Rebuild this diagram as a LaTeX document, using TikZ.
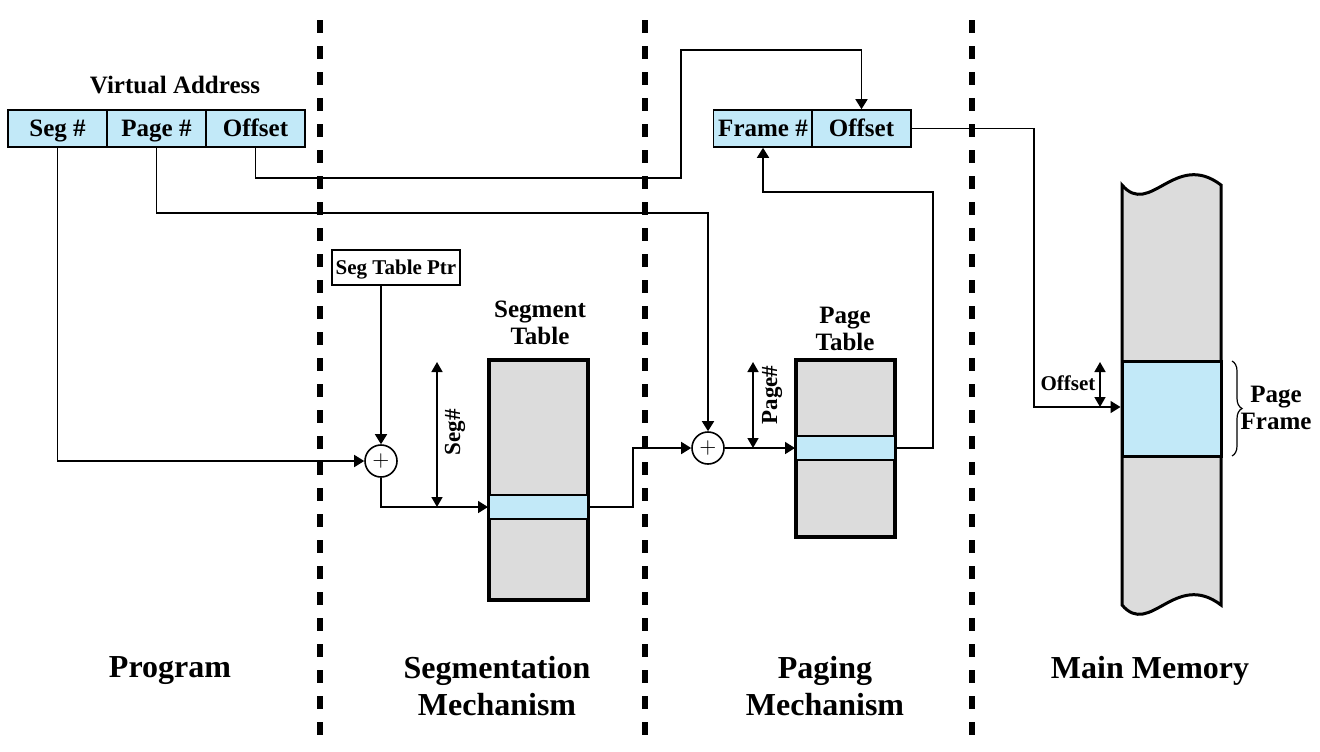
\documentclass[tikz,border=0pt]{standalone}
\usepackage{fontspec}
\setmainfont{Liberation Serif}
\usetikzlibrary{arrows.meta,decorations.pathreplacing}
\definecolor{cellblue}{RGB}{194,233,248}
\definecolor{tblgray}{RGB}{220,220,220}
\tikzset{
    arr/.style={-{Triangle[length=5pt,width=6pt]}, line width=0.8pt},
    dimarr/.style={{Triangle[length=5pt,width=5.5pt]}-{Triangle[length=5pt,width=5.5pt]}, line width=0.8pt},
    divider/.style={line width=3pt, dash pattern=on 6.5pt off 6.5pt},
    vabox/.style={draw, fill=cellblue, line width=0.8pt, minimum width=49.5pt, minimum height=18.5pt,
        inner sep=0pt, text height=9pt, text depth=0.7pt, font=\fontsize{12.5}{14}\selectfont\bfseries},
    ptrbox/.style={draw, fill=white, line width=0.8pt, minimum width=64pt, minimum height=17.5pt,
        inner sep=0pt, text height=7.5pt, text depth=0.5pt, font=\fontsize{10.5}{12}\selectfont\bfseries},
    adder/.style={draw, circle, fill=white, line width=0.8pt, minimum size=16pt, inner sep=0pt,
        font=\fontsize{11}{11}\selectfont},
    tbl/.style={draw, fill=tblgray, line width=2pt, minimum width=49.5pt, inner sep=0pt},
    tblrow/.style={draw, fill=cellblue, line width=1pt, minimum width=49.5pt, minimum height=12pt, inner sep=0pt},
    title/.style={align=center, font=\fontsize{12.5}{13.5}\selectfont\bfseries},
    rotlbl/.style={rotate=90, font=\fontsize{11.5}{12}\selectfont\bfseries},
    small/.style={font=\fontsize{10.5}{12}\selectfont\bfseries},
    section/.style={align=center, font=\fontsize{16}{18.5}\selectfont\bfseries}
}
\begin{document}
\begin{tikzpicture}[x=0.5pt, y=-0.5pt]
    \useasboundingbox (0,0) rectangle (1320,751);
    \draw[divider] (320,20) -- (320,745);
    \draw[divider] (645,20) -- (645,745);
    \draw[divider] (972,20) -- (972,745);

    \node[title] (vatitle) at (175,85) {Virtual Address};
    \node[vabox] (seg) at (57.5,128.5) {Seg \#};
    \node[vabox] (page) at (156.5,128.5) {Page \#};
    \node[vabox] (off) at (255.5,128.5) {Offset};
    \node[vabox] (frame) at (763,128.5) {Frame \#};
    \node[vabox] (foff) at (861.5,128.5) {Offset};

    \node[ptrbox] (ptr) at (396,267.5) {Seg Table Ptr};
    \node[adder] (add1) at (381,461) {$+$};
    \node[adder] (add2) at (708,448) {$+$};

    \node[title] (segtitle) at (540,323) {Segment\\Table};
    \node[tbl, minimum height=120pt] (segtab) at (538.5,480) {};
    \node[tblrow] (segrow) at (538.5,507) {};
    \node[title] (pagetitle) at (845,329) {Page\\Table};
    \node[tbl, minimum height=88.5pt] (pagetab) at (845.5,448.5) {};
    \node[tblrow] (pagerow) at (845.5,448) {};

    \filldraw[fill=tblgray, line width=1.5pt] (1122,185) .. controls (1150,218) and (1175,150) .. (1221,185)
        -- (1221,605) .. controls (1175,570) and (1150,638) .. (1122,605) -- cycle;
    \node[draw, fill=cellblue, line width=1.5pt, minimum width=49.5pt, minimum height=47.5pt, inner sep=0pt]
        (pframe) at (1171.5,408.5) {};
    \draw[decorate, decoration={brace, amplitude=5pt}, line width=0.6pt] (1232,361) -- (1232,456);
    \node[title] (pflbl) at (1276,408) {Page\\Frame};

    \coordinate (offbend) at (681,50);
    \coordinate (framebend) at (933,192);
    \coordinate (membend) at (1034,407);
    \coordinate (memin) at (pframe.west |- membend);
    \coordinate (segtop) at (437,362);
    \coordinate (pagetop) at (753,362);
    \coordinate (offtop) at (1100,362);

    \draw[arr] (seg.south) |- (add1.west);
    \draw[arr] (page.south) -- ++(0,65) -| (add2.north);
    \draw[arr] (off.south) -- ++(0,30) -| (offbend) -| (foff.north);
    \draw[arr] (add1 |- ptr.south) -- (add1.north);
    \draw[arr] (add1.south) |- (segrow.west);
    \draw[arr] (segrow.east) -- ++(44,0) |- (add2.west);
    \draw[arr] (add2.east) -- (pagerow.west);
    \draw[arr] (pagerow.east) -| (framebend) -| (frame.south);
    \draw[arr] (foff.east) -| (membend) -- (memin);

    \draw[dimarr] (segtop) -- (segtop |- segrow.west);
    \node[rotlbl] (seglbl) at (455,432) {Seg\#};
    \draw[dimarr] (pagetop) -- (pagetop |- pagerow.west);
    \node[rotlbl] (pagelbl) at (772,395) {Page\#};
    \draw[dimarr] (offtop) -- (offtop |- memin);
    \node[small] (offlbl) at (1068,383) {Offset};

    \node[section] (prog) at (170,671) {Program};
    \node[section] (segmech) at (497,686.5) {Segmentation\\Mechanism};
    \node[section] (pagemech) at (825,686.5) {Paging\\Mechanism};
    \node[section] (mainmem) at (1150,671) {Main Memory};
\end{tikzpicture}
\end{document}
